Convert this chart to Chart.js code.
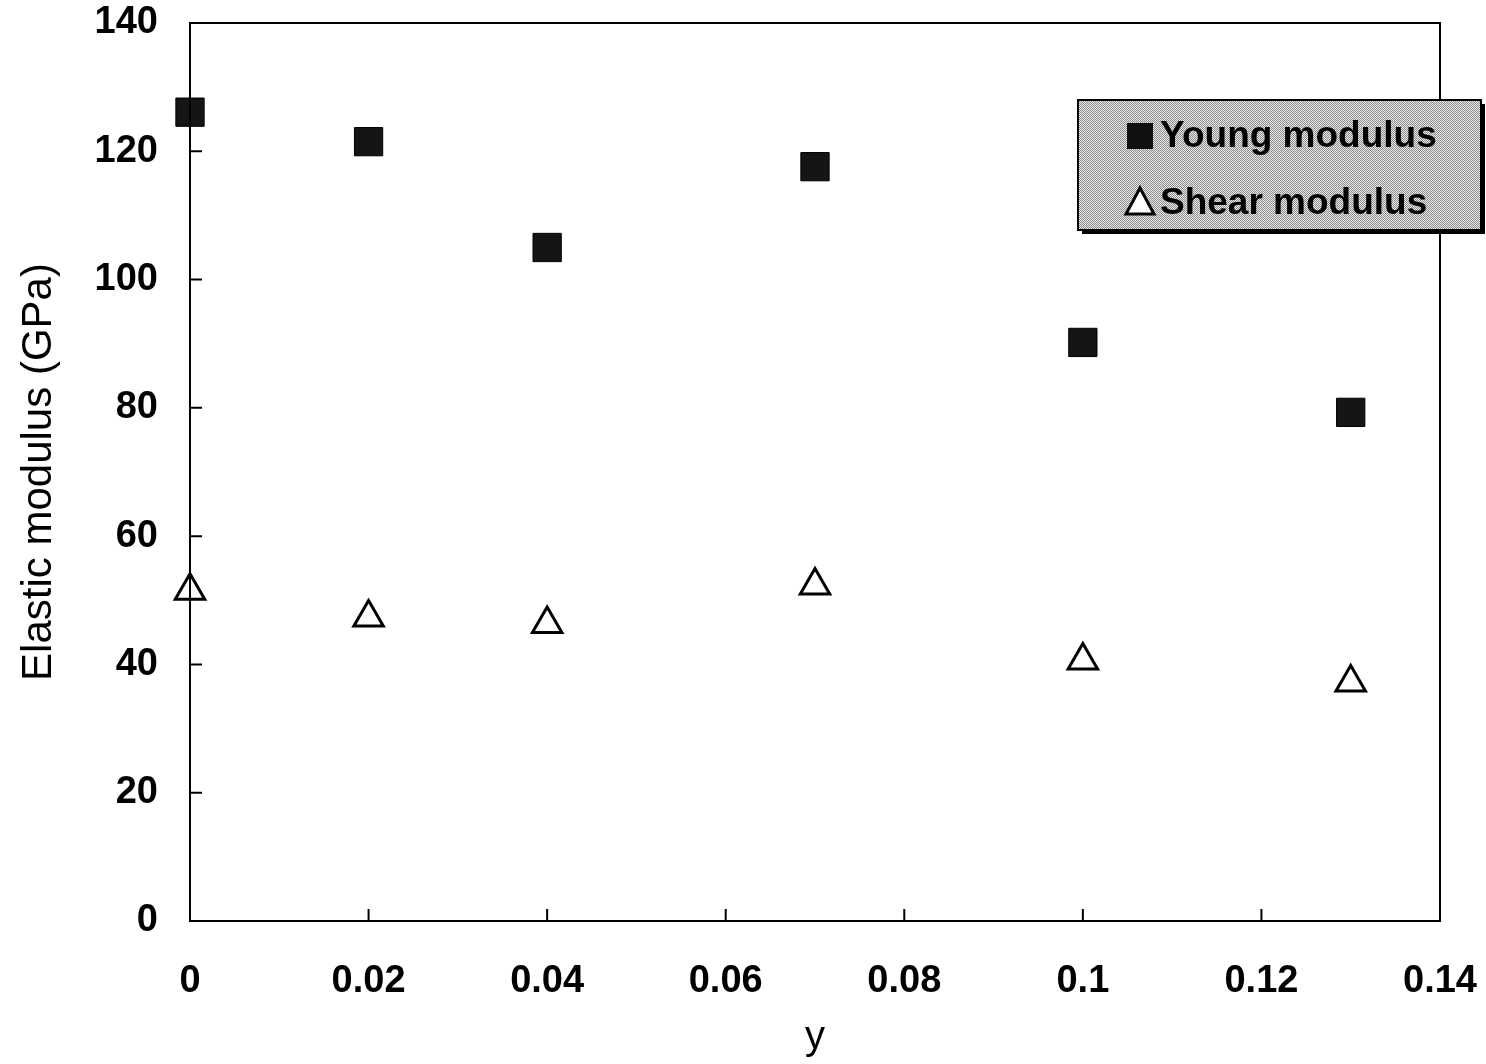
<!DOCTYPE html>
<html>
<head>
<meta charset="utf-8">
<script src="https://cdn.jsdelivr.net/npm/chart.js@4.4.0/dist/chart.umd.min.js"></script>
<style>
  html, body { margin: 0; padding: 0; background: #fff; }
  canvas { display: block; }
</style>
</head>
<body>
<canvas id="myChart" width="1486" height="1064"></canvas>
<script>
const xValues = [0, 0.02, 0.04, 0.07, 0.1, 0.13];
const youngModulus = [126.1, 121.5, 105.0, 117.6, 90.2, 79.3];
const shearModulus = [51.5, 47.3, 46.3, 52.3, 40.6, 37.2];
const xTickLabels = ['0', '0.02', '0.04', '0.06', '0.08', '0.1', '0.12', '0.14'];
const yTickLabels = ['0', '20', '40', '60', '80', '100', '120', '140'];
const seriesNames = ['Young modulus', 'Shear modulus'];

const ctx = document.getElementById('myChart').getContext('2d');

// box round the plot, ticks pointing inward, and the grey legend box
const framePlugin = {
    id: 'frame',
    afterDraw(chart) {
        const c = chart.ctx;
        const a = chart.chartArea;
        const xs = chart.scales.x;
        const ys = chart.scales.y;
        c.save();
        c.strokeStyle = '#000';
        c.lineWidth = 2;
        c.strokeRect(a.left, a.top, a.right - a.left, a.bottom - a.top);
        c.beginPath();
        xs.ticks.forEach(t => {
            const px = xs.getPixelForValue(t.value);
            c.moveTo(px, a.bottom);
            c.lineTo(px, a.bottom - 12);
        });
        ys.ticks.forEach(t => {
            const py = ys.getPixelForValue(t.value);
            c.moveTo(a.left, py);
            c.lineTo(a.left + 12, py);
        });
        c.stroke();

        // legend
        const bx = 1078, by = 100, bw = 403, bh = 130;
        c.fillStyle = '#000';
        c.fillRect(bx + 4, by + 4, bw, bh);
        const pc = document.createElement('canvas');
        pc.width = 2; pc.height = 2;
        const p = pc.getContext('2d');
        p.fillStyle = '#ececec'; p.fillRect(0, 0, 2, 2);
        p.fillStyle = '#8a8a8a'; p.fillRect(0, 0, 1, 1); p.fillRect(1, 1, 1, 1);
        c.fillStyle = c.createPattern(pc, 'repeat');
        c.fillRect(bx, by, bw, bh);
        c.lineWidth = 2;
        c.strokeStyle = '#000';
        c.strokeRect(bx, by, bw, bh);

        // square marker
        c.fillStyle = '#111';
        c.fillRect(1127, 123, 26, 26);
        // triangle marker
        c.beginPath();
        c.moveTo(1140, 188);
        c.lineTo(1154, 214);
        c.lineTo(1126, 214);
        c.closePath();
        c.fillStyle = '#fff';
        c.fill();
        c.lineWidth = 3;
        c.stroke();

        c.fillStyle = '#000';
        c.font = 'bold 37px "Liberation Sans", Arial, sans-serif';
        c.textBaseline = 'middle';
        c.textAlign = 'left';
        c.fillText(seriesNames[0], 1160, 137);
        c.fillText(seriesNames[1], 1160, 204);
        c.restore();
    }
};

const data = {
    datasets: [{
        label: seriesNames[0],
        data: xValues.map((x, i) => ({ x: x, y: youngModulus[i] })),
        pointStyle: 'rect',
        pointRadius: 20,
        pointHoverRadius: 20,
        backgroundColor: '#151515',
        borderColor: '#000',
        borderWidth: 1,
        showLine: false,
        clip: false
    }, {
        label: seriesNames[1],
        data: xValues.map((x, i) => ({ x: x, y: shearModulus[i] })),
        pointStyle: 'triangle',
        pointRadius: 17,
        pointHoverRadius: 17,
        backgroundColor: '#fff',
        borderColor: '#000',
        borderWidth: 3,
        showLine: false,
        clip: false
    }]
};

const config = {
    type: 'scatter',
    data: data,
    options: {
        responsive: false,
        animation: false,
        layout: {
            padding: { top: 23, right: 46, left: 0, bottom: 0 }
        },
        scales: {
            x: {
                type: 'linear',
                min: 0,
                max: 0.14,
                afterFit: s => { s.height = 143; s.paddingLeft = 0; s.paddingRight = 0; },
                grid: { display: false, drawTicks: false },
                border: { display: false },
                ticks: {
                    stepSize: 0.02,
                    padding: 38,
                    color: '#000',
                    maxRotation: 0,
                    font: { family: '"Liberation Sans", Arial, sans-serif', size: 38, weight: 'bold' },
                    callback: (v, i) => xTickLabels[i]
                },
                title: {
                    display: true,
                    text: 'y',
                    color: '#000',
                    padding: { top: 0, bottom: 2 },
                    font: { family: '"Liberation Sans", Arial, sans-serif', size: 40 }
                }
            },
            y: {
                min: 0,
                max: 140,
                afterFit: s => { s.width = 190; s.paddingTop = 0; s.paddingBottom = 0; },
                grid: { display: false, drawTicks: false },
                border: { display: false },
                ticks: {
                    stepSize: 20,
                    padding: 32,
                    color: '#000',
                    font: { family: '"Liberation Sans", Arial, sans-serif', size: 38, weight: 'bold' },
                    callback: (v, i) => yTickLabels[i]
                },
                title: {
                    display: true,
                    text: 'Elastic modulus (GPa)',
                    color: '#000',
                    padding: { top: 14, bottom: 0 },
                    font: { family: '"Liberation Sans", Arial, sans-serif', size: 42 }
                }
            }
        },
        plugins: {
            legend: { display: false },
            tooltip: { enabled: false }
        }
    },
    plugins: [framePlugin]
};

const myChart = new Chart(ctx, config);
</script>
</body>
</html>
